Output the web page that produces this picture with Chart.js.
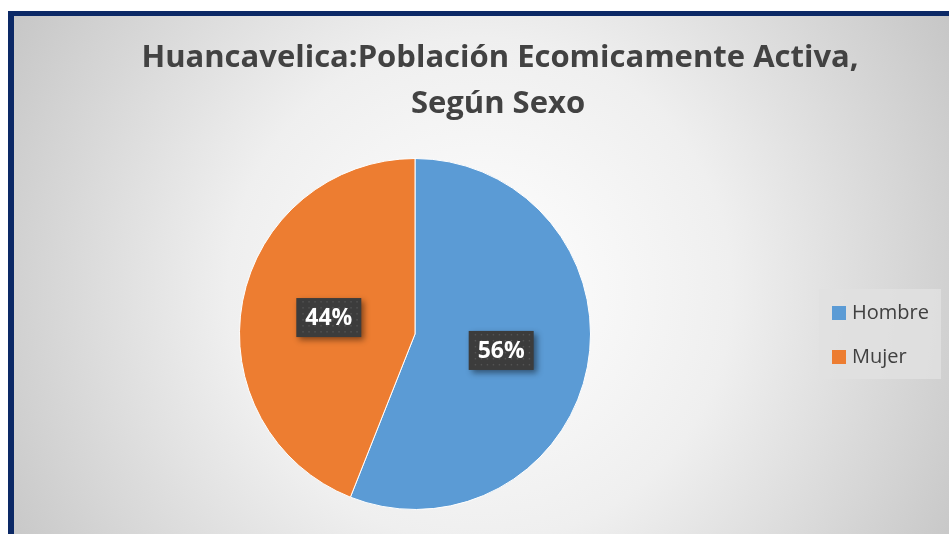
<!DOCTYPE html>
<html>
<head>
<meta charset="utf-8">
<script src="https://cdn.jsdelivr.net/npm/chart.js@4"></script>
<style>
  html,body{margin:0;padding:0;background:#fff;}
  #wrap{position:absolute;left:0;top:0;width:949px;height:534px;}
</style>
</head>
<body>
<div id="wrap"><canvas id="c" width="949" height="534"></canvas></div>
<script>
const titleLines = ["Huancavelica:Población Ecomicamente Activa,", "Según Sexo"];
const categories = ["Hombre", "Mujer"];
const values = [56, 44];
const colors = ["#5b9bd5", "#ed7d31"];

const bgPlugin = {
  id: 'bg',
  beforeDraw(chart) {
    const ctx = chart.ctx;
    ctx.save();
    ctx.fillStyle = '#ffffff';
    ctx.fillRect(0, 0, 949, 534);
    const g = ctx.createRadialGradient(480, 290, 0, 480, 290, 560);
    g.addColorStop(0, '#ffffff');
    g.addColorStop(0.45, '#efefef');
    g.addColorStop(1, '#c4c4c4');
    ctx.fillStyle = g;
    ctx.fillRect(14, 16, 949, 534);
    ctx.fillStyle = '#0c2966';
    ctx.fillRect(8, 11, 949, 5);
    ctx.fillRect(8, 11, 6, 534);
    // title
    ctx.fillStyle = '#424242';
    ctx.font = 'bold 31px "Open Sans"';
    ctx.textAlign = 'center';
    ctx.textBaseline = 'alphabetic';
    ctx.fillText(titleLines[0], 500, 67);
    ctx.fillText(titleLines[1], 498, 113);
    // legend box
    ctx.fillStyle = 'rgba(225,225,225,0.85)';
    ctx.fillRect(819, 289, 122, 90);
    ctx.restore();
  },
  afterDraw(chart) {
    const ctx = chart.ctx;
    ctx.save();
    const meta = chart.getDatasetMeta(0);
    ctx.font = '20px "Open Sans"';
    ctx.textBaseline = 'middle';
    ctx.textAlign = 'left';
    categories.forEach((lab, i) => {
      const y = 313 + i * 44;
      ctx.fillStyle = colors[i];
      ctx.fillRect(832, y - 7, 14, 14);
      ctx.fillStyle = '#404040';
      ctx.fillText(lab, 852, y);
    });
    const total = values.reduce((a, b) => a + b, 0);
    meta.data.forEach((arc, i) => {
      const p = arc.getCenterPoint();
      const txt = Math.round(values[i] / total * 100) + '%';
      ctx.font = 'bold 23px "Open Sans"';
      const w = 65, h = 39;
      const x = p.x - w / 2, y = p.y - h / 2;
      ctx.shadowColor = 'rgba(0,0,0,0.45)';
      ctx.shadowBlur = 6;
      ctx.shadowOffsetX = 3;
      ctx.shadowOffsetY = 3;
      ctx.fillStyle = '#3c3c3c';
      ctx.fillRect(x, y, w, h);
      ctx.shadowColor = 'transparent';
      ctx.fillStyle = 'rgba(110,110,110,0.45)';
      for (let yy = y + 3; yy < y + h; yy += 6) {
        for (let xx = x + 3 + ((yy - y) % 12 ? 3 : 0); xx < x + w; xx += 6) {
          ctx.fillRect(xx, yy, 1.5, 1.5);
        }
      }
      ctx.fillStyle = '#ffffff';
      ctx.textAlign = 'center';
      ctx.textBaseline = 'middle';
      ctx.fillText(txt, p.x, p.y + 1);
    });
    ctx.restore();
  }
};

new Chart(document.getElementById('c'), {
  type: 'pie',
  data: {
    labels: categories,
    datasets: [{ data: values, backgroundColor: colors, borderColor: '#ffffff', borderWidth: 1 }]
  },
  options: {
    responsive: false,
    animation: false,
    layout: { padding: { left: 239, right: 358, top: 158, bottom: 24 } },
    plugins: { legend: { display: false }, tooltip: { enabled: false }, title: { display: false } }
  },
  plugins: [bgPlugin]
});
</script>
</body>
</html>
